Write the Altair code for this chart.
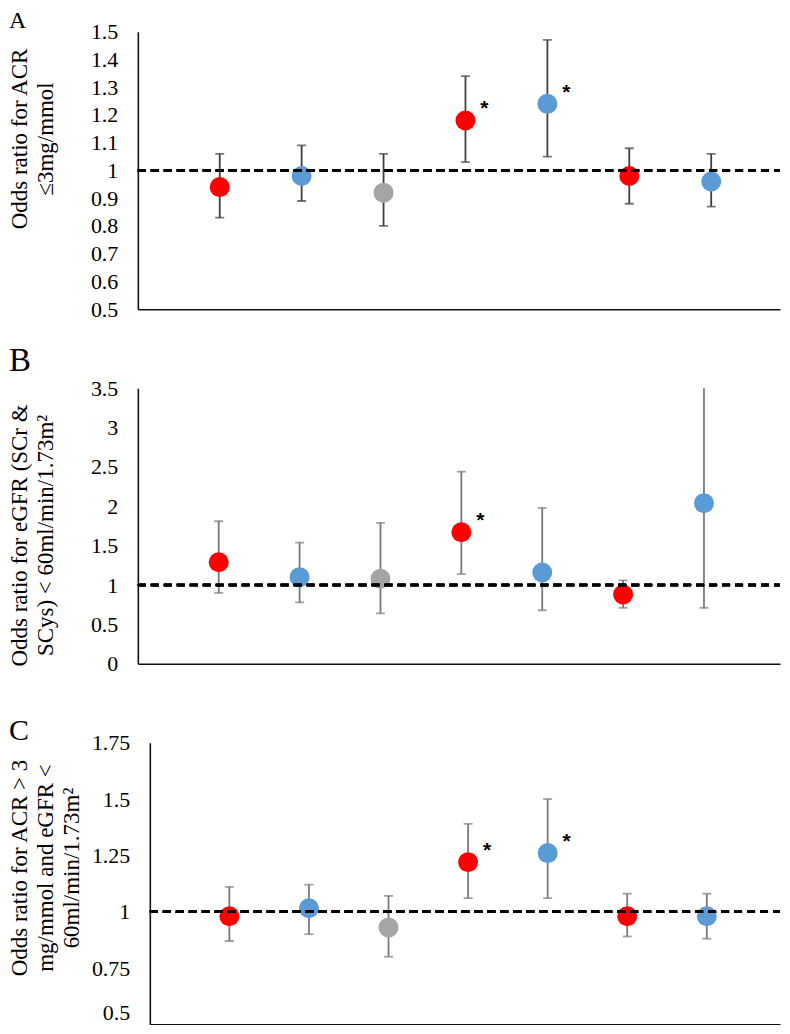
import altair as alt
import pandas as pd

# ---------------- data ----------------
positions = [1, 2, 3, 4, 5, 6, 7]
groups = ["red", "blue", "grey", "red", "blue", "red", "blue"]
group_domain = ["red", "blue", "grey"]
group_colors = ["#FF0000", "#5B9BD5", "#A5A5A5"]

a_or = [0.94, 0.98, 0.92, 1.18, 1.24, 0.98, 0.96]
a_lo = [0.83, 0.89, 0.80, 1.03, 1.05, 0.88, 0.87]
a_hi = [1.06, 1.09, 1.06, 1.34, 1.47, 1.08, 1.06]
a_sig = [0, 0, 0, 1, 1, 0, 0]

b_or = [1.29, 1.10, 1.08, 1.67, 1.16, 0.88, 2.04]
b_lo = [0.90, 0.78, 0.64, 1.14, 0.68, 0.71, 0.71]
b_hi = [1.81, 1.54, 1.79, 2.44, 1.98, 1.06, 3.60]
b_sig = [0, 0, 0, 1, 0, 0, 0]

c_or = [0.98, 1.015, 0.93, 1.22, 1.26, 0.98, 0.98]
c_lo = [0.87, 0.90, 0.80, 1.06, 1.06, 0.89, 0.88]
c_hi = [1.11, 1.12, 1.07, 1.39, 1.50, 1.08, 1.08]
c_sig = [0, 0, 0, 1, 1, 0, 0]

a_ticks = [0.5, 0.6, 0.7, 0.8, 0.9, 1.0, 1.1, 1.2, 1.3, 1.4, 1.5]
b_ticks = [0, 0.5, 1.0, 1.5, 2.0, 2.5, 3.0, 3.5]
c_ticks = [0.5, 0.75, 1.0, 1.25, 1.5, 1.75]

a_title = ["Odds ratio for ACR", "\u22643mg/mmol"]
b_title = ["Odds ratio for eGFR (SCr &", "SCys) < 60ml/min/1.73m\u00b2"]
c_title = ["Odds ratio for ACR > 3", "mg/mmol and eGFR <", "60ml/min/1.73m\u00b2"]

ref_line = 1.0
a_xmax = 7.84
b_xmax = 7.94
c_xmax = 7.92

SERIF = "Liberation Serif"


def panel(orv, lo, hi, sig, ticks, ydom, ytitle, letter, letter_size,
          letter_offset, width, height, bar_color, title_x, title_y, xmax,
          x_range=None, axis_offset=0, bottom_label=None):
    df = pd.DataFrame({"pos": positions, "grp": groups, "or": orv,
                       "lo": lo, "hi": hi, "sig": sig})
    if x_range is not None:
        xs = alt.Scale(domain=[0, xmax], range=x_range)
    else:
        xs = alt.Scale(domain=[0, xmax])
    xax = alt.Axis(labels=False, ticks=False, title=None, grid=False,
                   domain=True, domainColor="#111111", domainWidth=1.6)
    ys = alt.Scale(domain=ydom, nice=False, zero=False)
    extra = {}
    if bottom_label is not None:
        extra["labelBaseline"] = {
            "condition": {"test": f"datum.value == {bottom_label}",
                          "value": "bottom"},
            "value": "middle"}
    yax = alt.Axis(values=ticks, format=".2~f", grid=False, ticks=False,
                   tickSize=0, labelPadding=20, labelFont=SERIF,
                   labelFontSize=22, labelColor="black", labelOverlap=False,
                   domainColor="#111111", domainWidth=1.6,
                   title=ytitle, titleFont=SERIF, titleFontSize=23,
                   titleFontWeight="normal", titleColor="black",
                   titleAngle=270, titleBaseline="top", titleAlign="center",
                   titleLineHeight=26, titleX=title_x, titleY=title_y,
                   offset=axis_offset, **extra)

    def X(field):
        return alt.X(field, type="quantitative", scale=xs, axis=xax)

    def Y(field):
        return alt.Y(field, type="quantitative", scale=ys, axis=yax)

    base = alt.Chart(df)
    bars = base.mark_rule(color=bar_color, strokeWidth=1.8, clip=True).encode(
        x=X("pos"), y=Y("lo"), y2="hi")
    cap_hi = base.mark_tick(color=bar_color, orient="horizontal", size=9,
                            thickness=1.8, clip=True).encode(
        x=X("pos"), y=Y("hi"))
    cap_lo = base.mark_tick(color=bar_color, orient="horizontal", size=9,
                            thickness=1.8, clip=True).encode(
        x=X("pos"), y=Y("lo"))
    pts = base.mark_point(filled=True, size=400, opacity=1, shape="circle").encode(
        x=X("pos"), y=Y("or"),
        color=alt.Color("grp:N", scale=alt.Scale(domain=group_domain,
                                                 range=group_colors),
                        legend=None))
    stars = base.transform_filter("datum.sig == 1").mark_text(
        text="*", font="Liberation Sans", fontWeight="bold", fontSize=21,
        color="black", dx=19, dy=-5, baseline="alphabetic").encode(
        x=X("pos"), y=Y("or"))
    dash = alt.Chart(df).mark_rule(color="black", strokeWidth=2.4,
                                   strokeDash=[8, 5]).encode(
        x=alt.X(datum=0, type="quantitative", scale=xs, axis=xax),
        x2=alt.X2(datum=xmax),
        y=alt.Y(datum=ref_line, type="quantitative", scale=ys, axis=yax))

    return alt.layer(bars, cap_hi, cap_lo, pts, stars, dash).properties(
        width=width, height=height,
        title=alt.TitleParams(text=letter, anchor="start", frame="bounds",
                              font=SERIF, fontSize=letter_size,
                              fontWeight="normal", color="black",
                              offset=letter_offset))


pa = panel(a_or, a_lo, a_hi, a_sig, a_ticks, [0.5, 1.5], a_title,
           "A", 24, -12, 643, 278, "#3f3f3f", -129, 107, a_xmax)
pb = panel(b_or, b_lo, b_hi, b_sig, b_ticks, [0, 3.5], b_title,
           "B", 33, -1, 643, 276, "#7a7a7a", -129, 147, b_xmax)
pc = panel(c_or, c_lo, c_hi, c_sig, c_ticks, [0.5, 1.75], c_title,
           "C", 30, -14, 643, 282, "#7a7a7a", -141, 125, c_xmax,
           x_range=[12, 643], axis_offset=-12, bottom_label=0.5)

chart = alt.vconcat(pa, pb, pc, spacing=79, bounds="flush",
                    padding={"left": 0, "top": 0, "right": 0, "bottom": 0}
                    ).configure_view(stroke=None)

chart.save("out.html", embed_options={"renderer": "svg", "actions": False})
